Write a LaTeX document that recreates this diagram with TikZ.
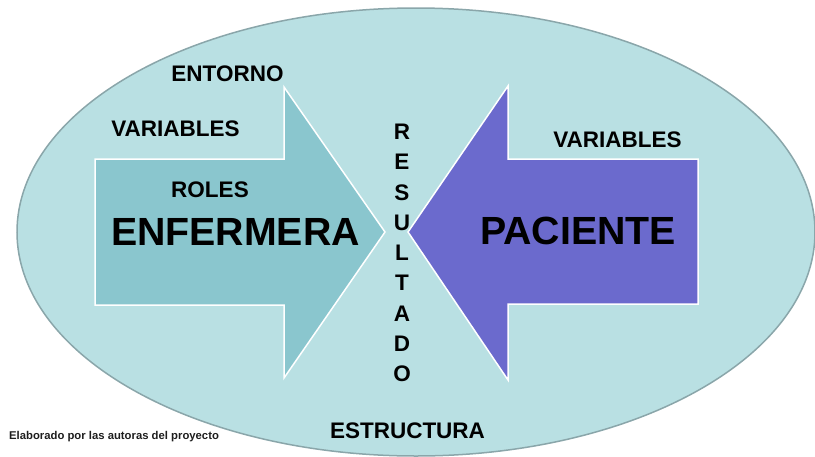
\documentclass[tikz,border=0pt]{standalone}
\usepackage{fontspec}
\setmainfont{Liberation Sans}
\usetikzlibrary{positioning}
\definecolor{fondo}{RGB}{185,224,227}
\definecolor{borde}{RGB}{138,166,170}
\definecolor{enfcol}{RGB}{138,198,206}
\definecolor{paccol}{RGB}{107,106,205}
\definecolor{notacol}{RGB}{30,30,30}
\tikzset{
etiq/.style={
  font=\bfseries\fontsize{22.5}{26}\selectfont,
  inner sep=0pt
  },
grande/.style={
  font=\bfseries\fontsize{39.3}{45}\selectfont,
  inner sep=0pt
  },
flecha/.style={
  draw=white,
  line width=1.5pt,
  line join=miter
  }
}

\begin{document}
\begin{tikzpicture}[x=1pt, y=-1pt]
\useasboundingbox (0,0) rectangle (815,456);

% fondo
\draw[fill=fondo, draw=borde, line width=1.5pt]
  (416,232) ellipse [x radius=399, y radius=224];

% flechas
\draw[flecha, fill=enfcol]
  (95,159) -- (284,159) -- (284,87) -- (385,232)
  -- (284,378) -- (284,305) -- (95,305) -- cycle;
\draw[flecha, fill=paccol]
  (698,159) -- (508,159) -- (508,86) -- (408,232)
  -- (508,380) -- (508,304) -- (698,304) -- cycle;

% textos
\node[etiq] (entorno) at (227.5,73.5) {ENTORNO};
\node[etiq] (varenf) at (175.5,128.5) {VARIABLES};
\node[etiq] (roles) at (210,190) {ROLES};
\node[grande] (enfermera) at (235.5,231.5) {ENFERMERA};
\node[grande] (paciente) at (578,231) {PACIENTE};
\node[etiq] (varpac) at (617.5,140) {VARIABLES};
\node[etiq] (estructura) at (407.5,430.5) {ESTRUCTURA};
\node[etiq, align=center, font=\bfseries\fontsize{22.5}{30.3}\selectfont]
  (resultado) at (402,253)
  {R\\E\\S\\U\\L\\T\\A\\D\\O};

\node[anchor=west, inner sep=0pt, text=notacol,
  font=\bfseries\fontsize{11.3}{14}\selectfont]
  (nota) at (9,437) {Elaborado por las autoras del proyecto};
\end{tikzpicture}
\end{document}
